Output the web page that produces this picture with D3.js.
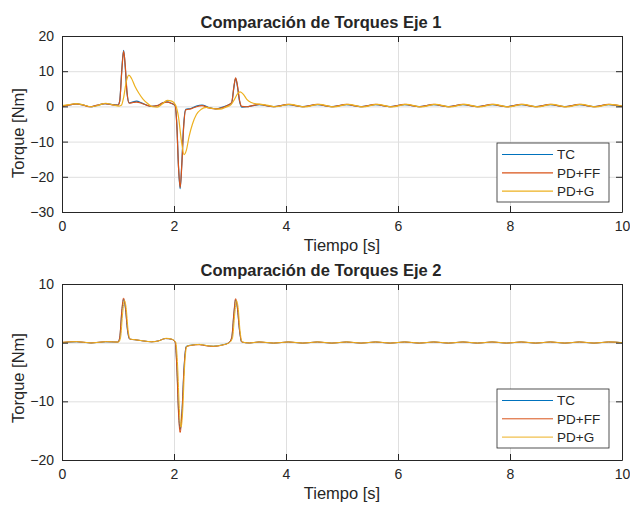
<!DOCTYPE html>
<html><head><meta charset="utf-8">
<script src="https://cdn.jsdelivr.net/npm/d3@7"></script>
<style>body{margin:0;background:#fff} text{font-family:"Liberation Sans",Arial,Helvetica,sans-serif;fill:#262626}</style>
</head><body>
<svg id="c" width="630" height="505"></svg>
<script>
// ---------- data ----------
const seriesNames = ["TC", "PD+FF", "PD+G"];
const xTicks = [0, 2, 4, 6, 8, 10];
const yTicks1 = [-30, -20, -10, 0, 10, 20];
const yTicks2 = [-20, -10, 0, 10];
const titles = ["Comparación de Torques Eje 1", "Comparación de Torques Eje 2"];
const xLabel = "Tiempo [s]";
const yLabel = "Torque [Nm]";

// Eje 1
const t1_tc = [0,0.12,0.25,0.38,0.50,0.63,0.77,0.90,1.00,1.03,1.07,1.10,1.13,1.16,1.20,1.27,1.33,1.42,1.52,1.60,1.70,1.80,1.87,1.95,2.02,2.05,2.08,2.11,2.14,2.17,2.21,2.30,2.40,2.50,2.62,2.75,2.87,2.97,3.03,3.07,3.10,3.13,3.17,3.21,3.30,3.40,3.52,3.78,4.04,4.30,4.56,4.82,5.08,5.34,5.60,5.86,6.12,6.38,6.64,6.90,7.16,7.42,7.68,7.94,8.20,8.46,8.72,8.98,9.24,9.50,9.76,10.0];
const v1_tc = [0.1,0.4,0.7,0.4,-0.1,0.3,0.8,0.5,0.4,1.5,11,15.9,11,4,1.0,1.3,1.5,1.0,0.3,0.0,0.2,1.0,1.3,0.9,0.2,-5,-17,-23.4,-16,-6,-0.8,-0.6,0.1,0.4,-0.3,-0.7,-0.2,0.4,1.0,5.5,8.0,6,1.5,-0.2,-0.1,0.2,0.5,-0.05,0.5,-0.05,0.5,-0.05,0.5,-0.05,0.5,-0.05,0.5,-0.05,0.5,-0.05,0.5,-0.05,0.5,-0.05,0.5,-0.05,0.5,-0.05,0.5,-0.05,0.5,0.0];
const t1_ff = t1_tc;
const v1_ff = [0.0,0.35,0.7,0.35,-0.1,0.35,0.8,0.45,0.35,1.4,10.5,15.7,11.5,4.2,0.9,1.1,1.2,0.9,0.3,0.0,0.2,1.0,1.2,0.9,0.2,-5.2,-17,-23.0,-16.5,-6.5,-1.0,-0.7,-0.1,0.2,-0.4,-0.7,-0.3,0.4,1.1,5.6,8.1,6.2,1.8,0.0,-0.1,0.2,0.55,-0.1,0.55,-0.1,0.55,-0.1,0.55,-0.1,0.55,-0.1,0.55,-0.1,0.55,-0.1,0.55,-0.1,0.55,-0.1,0.55,-0.1,0.55,-0.1,0.55,-0.1,0.55,0.0];
const t1_g = [0,0.12,0.25,0.38,0.52,0.65,0.78,0.92,1.02,1.06,1.10,1.15,1.195,1.24,1.30,1.37,1.45,1.53,1.62,1.70,1.79,1.88,1.96,2.03,2.08,2.13,2.18,2.22,2.27,2.33,2.40,2.48,2.58,2.70,2.82,2.93,3.02,3.08,3.13,3.18,3.24,3.30,3.38,3.48,3.55,3.70,3.81,4.07,4.33,4.59,4.85,5.11,5.37,5.63,5.89,6.15,6.41,6.67,6.93,7.19,7.45,7.71,7.97,8.23,8.49,8.75,9.01,9.27,9.53,9.79,10.0];
const v1_g = [0.2,0.5,0.8,0.4,-0.1,0.3,0.9,0.4,0.1,0.3,2.5,7.2,8.9,8.0,5.8,3.8,2.0,0.8,-0.1,-0.2,0.7,1.7,1.5,0.3,-3,-9.5,-13.7,-12.5,-8.5,-5,-2.3,-0.9,-0.3,-0.6,-0.8,-0.2,0.5,2.0,3.5,4.1,3.4,2.0,1.1,0.7,0.6,0.2,-0.1,0.6,-0.15,0.6,-0.15,0.6,-0.15,0.6,-0.15,0.6,-0.15,0.6,-0.15,0.6,-0.15,0.6,-0.15,0.6,-0.15,0.6,-0.15,0.6,-0.15,0.6,0.1];

// Eje 2
const t2_tc = [0,0.26,0.52,0.78,1.00,1.03,1.07,1.10,1.13,1.17,1.21,1.30,1.45,1.60,1.72,1.85,1.95,2.02,2.05,2.08,2.11,2.14,2.18,2.22,2.32,2.45,2.58,2.70,2.85,2.98,3.03,3.07,3.10,3.13,3.17,3.21,3.35,3.52,3.78,4.04,4.30,4.56,4.82,5.08,5.34,5.60,5.86,6.12,6.38,6.64,6.90,7.16,7.42,7.68,7.94,8.20,8.46,8.72,8.98,9.24,9.50,9.76,10.0];
const v2_tc = [0.0,0.15,-0.05,0.15,0.1,0.8,5.5,7.4,6,2,0.6,0.5,0.3,0.15,0.3,0.7,0.6,0.1,-4,-11.5,-14.8,-12,-4,-0.6,-0.4,-0.3,-0.5,-0.6,-0.4,0.0,0.8,5,7.3,6,2,0.1,-0.05,0.12,-0.08,0.12,-0.08,0.12,-0.08,0.12,-0.08,0.12,-0.08,0.12,-0.08,0.12,-0.08,0.12,-0.08,0.12,-0.08,0.12,-0.08,0.12,-0.08,0.12,-0.08,0.12,0.0];
const t2_ff = t2_tc;
const v2_ff = [0.05,0.18,-0.05,0.18,0.1,0.9,5.8,7.6,6.2,2.2,0.6,0.5,0.3,0.15,0.3,0.7,0.6,0.1,-4.3,-12,-15.3,-12.3,-4.2,-0.7,-0.45,-0.35,-0.55,-0.65,-0.45,0.0,0.9,5.2,7.5,6.1,2.1,0.1,-0.05,0.12,-0.08,0.12,-0.08,0.12,-0.08,0.12,-0.08,0.12,-0.08,0.12,-0.08,0.12,-0.08,0.12,-0.08,0.12,-0.08,0.12,-0.08,0.12,-0.08,0.12,-0.08,0.12,0.0];
const t2_g = [0,0.27,0.53,0.79,1.01,1.045,1.085,1.115,1.145,1.18,1.22,1.31,1.46,1.61,1.73,1.86,1.96,2.03,2.065,2.095,2.125,2.155,2.19,2.23,2.33,2.46,2.59,2.71,2.86,2.99,3.045,3.085,3.115,3.145,3.18,3.22,3.36,3.53,3.79,4.05,4.31,4.57,4.83,5.09,5.35,5.61,5.87,6.13,6.39,6.65,6.91,7.17,7.43,7.69,7.95,8.21,8.47,8.73,8.99,9.25,9.51,9.77,10.0];
const v2_g = [0.05,0.18,-0.05,0.18,0.1,0.8,5.2,7.2,6.0,2.2,0.6,0.5,0.3,0.15,0.3,0.75,0.6,0.1,-4,-11.2,-14.4,-11.8,-4,-0.6,-0.4,-0.3,-0.5,-0.6,-0.4,0.0,0.8,4.9,7.2,6.0,2.0,0.1,-0.05,0.14,-0.08,0.14,-0.08,0.14,-0.08,0.14,-0.08,0.14,-0.08,0.14,-0.08,0.14,-0.08,0.14,-0.08,0.14,-0.08,0.14,-0.08,0.14,-0.08,0.14,-0.08,0.14,0.0];

const colors = ["#0072BD", "#D95319", "#EDB120"];

// ---------- drawing ----------
const svg = d3.select("#c");
const X0 = 62, X1 = 622;

function panel(o) {
  const x = d3.scaleLinear().domain([0, 10]).range([X0, X1]);
  const y = d3.scaleLinear().domain(o.ydom).range([o.bot, o.top]);
  const g = svg.append("g");
  const H = o.bot - o.top, W = X1 - X0;

  // grid
  g.append("g").attr("transform", `translate(0,${o.bot})`)
    .call(d3.axisBottom(x).tickValues(xTicks).tickSize(-H).tickFormat(""))
    .call(s => { s.select(".domain").remove(); s.selectAll("line").attr("stroke", "#dfdfdf"); });
  g.append("g").attr("transform", `translate(${X0},0)`)
    .call(d3.axisLeft(y).tickValues(o.yticks).tickSize(-W).tickFormat(""))
    .call(s => { s.select(".domain").remove(); s.selectAll("line").attr("stroke", "#dfdfdf"); });

  // lines
  const line = d3.line().x(d => x(d[0])).y(d => y(d[1])).curve(d3.curveMonotoneX);
  o.series.forEach((s, i) => {
    const pts = s.t.map((t, k) => [t, s.v[k]]);
    g.append("path").attr("d", line(pts)).attr("fill", "none")
      .attr("stroke", colors[i]).attr("stroke-width", o.lw).attr("stroke-linejoin", "round");
  });

  // axes (ticks inward)
  const ax = (sel) => { sel.select(".domain").attr("stroke", "#262626");
    sel.selectAll(".tick line").attr("stroke", "#262626");
    sel.selectAll("text").attr("font-size", 14).attr("fill", "#262626")
      .attr("font-family", '"Liberation Sans",Arial,sans-serif'); };
  g.append("g").attr("transform", `translate(0,${o.bot})`)
    .call(d3.axisBottom(x).tickValues(xTicks).tickSizeInner(-6).tickSizeOuter(0).tickPadding(9)).call(ax);
  g.append("g").attr("transform", `translate(0,${o.top})`)
    .call(d3.axisTop(x).tickValues(xTicks).tickSizeInner(-6).tickSizeOuter(0).tickFormat("")).call(ax);
  g.append("g").attr("transform", `translate(${X0},0)`)
    .call(d3.axisLeft(y).tickValues(o.yticks).tickSizeInner(-6).tickSizeOuter(0).tickPadding(8)).call(ax);
  g.append("g").attr("transform", `translate(${X1},0)`)
    .call(d3.axisRight(y).tickValues(o.yticks).tickSizeInner(-6).tickSizeOuter(0).tickFormat("")).call(ax);

  // texts
  g.append("text").attr("x", 321).attr("y", o.top - 8).attr("text-anchor", "middle")
    .attr("font-size", 16.5).attr("font-weight", "bold").text(o.title);
  g.append("text").attr("x", (X0 + X1) / 2).attr("y", o.bot + 38.5).attr("text-anchor", "middle")
    .attr("font-size", 16.5).text(xLabel);
  g.append("text").attr("transform", `translate(23.5,${o.ylc}) rotate(-90)`).attr("text-anchor", "middle")
    .attr("font-size", 16.5).text(yLabel);

  // legend
  const L = g.append("g");
  L.append("rect").attr("x", 497).attr("y", o.legTop).attr("width", 112).attr("height", 59)
    .attr("fill", "#fff").attr("stroke", "#262626").attr("stroke-width", 0.8);
  seriesNames.forEach((n, i) => {
    const yy = o.legTop + 11.5 + i * 18.3;
    L.append("line").attr("x1", 502).attr("x2", 553).attr("y1", yy).attr("y2", yy)
      .attr("stroke", colors[i]).attr("stroke-width", o.lw);
    L.append("text").attr("x", 557).attr("y", yy).attr("dy", "0.35em").attr("font-size", 13.5).text(n);
  });
}

panel({ top: 36, bot: 212, ydom: [-30, 20], yticks: yTicks1, title: titles[0], ylc: 133, legTop: 143, lw: 1.2,
  series: [{ t: t1_tc, v: v1_tc }, { t: t1_ff, v: v1_ff }, { t: t1_g, v: v1_g }] });
panel({ top: 284, bot: 460, ydom: [-20, 10], yticks: yTicks2, title: titles[1], ylc: 378, legTop: 389, lw: 1.0,
  series: [{ t: t2_tc, v: v2_tc }, { t: t2_ff, v: v2_ff }, { t: t2_g, v: v2_g }] });
</script>
</body></html>
